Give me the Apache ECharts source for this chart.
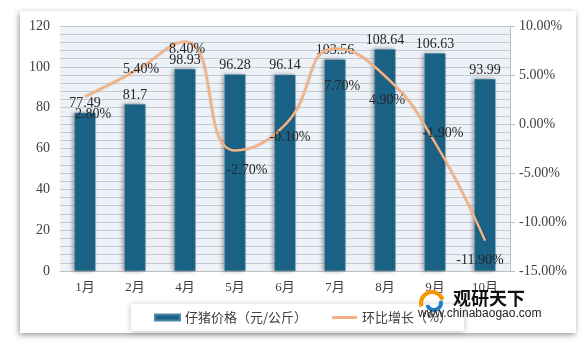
<!DOCTYPE html>
<html><head><meta charset="utf-8">
<script src="https://cdn.jsdelivr.net/npm/echarts@6/dist/echarts.min.js"></script>
<style>
html,body{margin:0;padding:0;background:#fff;}
#panel{position:absolute;left:20px;top:11px;width:556px;height:322px;background:#fff;box-shadow:-1px 2px 6px rgba(0,0,0,0.4);}
#chart{position:absolute;left:0;top:0;width:587px;height:344px;}
</style></head>
<body>
<div id="panel"></div>
<div id="chart"></div>
<script>
var categories = ['1月','2月','4月','5月','6月','7月','8月','9月','10月'];
var priceValues = [77.49, 81.7, 98.93, 96.28, 96.14, 103.56, 108.64, 106.63, 93.99];
var growthValues = [2.80, 5.40, 8.40, -2.70, -0.10, 7.70, 4.90, -1.90, -11.90];
var leftTicks = {min: 0, max: 120, interval: 20};
var rightTicks = {min: -15, max: 10, interval: 5};
var seriesNames = ['仔猪价格（元/公斤）', '环比增长（%）'];

// label offsets for growth labels (presentation only)
var growthLabelOffsets = [[8,18],[6,-2],[2,8],[12,20],[5,12],[7,38],[2,24],[8,-9],[-5,20]];

var serif = '"Liberation Serif","Noto Sans CJK SC",serif';
var chart = echarts.init(document.getElementById('chart'));
var growthData = growthValues.map(function(v, i){
  return {value: v, label: {offset: growthLabelOffsets[i]}};
});
chart.setOption({
  backgroundColor: 'transparent',
  animation: false,
  grid: {left: 60, right: 77, top: 26, bottom: 73, show: true, backgroundColor: '#edf2f8', borderWidth: 0},
  legend: {
    left: 131, top: 304, padding: [7, 12, 7, 23],
    backgroundColor: '#fff',
    shadowColor: 'rgba(0,0,0,0.25)', shadowBlur: 6, shadowOffsetY: 1,
    itemWidth: 25, itemHeight: 6, itemGap: 25,
    textStyle: {fontFamily: '"Noto Sans CJK SC"', fontSize: 13, color: '#404040'},
    data: [
      {name: seriesNames[0], icon: 'rect'},
      {name: seriesNames[1], icon: 'path://M0,0L25,0L25,3L0,3Z', itemStyle: {color: '#f4b183'}}
    ]
  },
  xAxis: {
    type: 'category', data: categories,
    axisLine: {show: true, lineStyle: {color: '#bfbfbf'}},
    axisTick: {show: false},
    axisLabel: {fontFamily: serif, fontSize: 13, color: '#404040', margin: 10}
  },
  yAxis: [
    {type: 'value', min: leftTicks.min, max: leftTicks.max, interval: leftTicks.interval,
     axisLine: {show: false}, axisTick: {show: false},
     axisLabel: {fontFamily: serif, fontSize: 14, color: '#404040', margin: 10},
     splitLine: {show: true, lineStyle: {color: '#c6cbd1', width: 1}},
     minorTick: {show: false, splitNumber: 5},
     minorSplitLine: {show: true, lineStyle: {color: '#c6cbd1', width: 1}}
    },
    {type: 'value', min: rightTicks.min, max: rightTicks.max, interval: rightTicks.interval,
     position: 'right',
     axisLine: {show: true, lineStyle: {color: '#bfbfbf'}},
     axisTick: {show: true, inside: false, length: 5, lineStyle: {color: '#bfbfbf'}},
     axisLabel: {fontFamily: serif, fontSize: 14, color: '#404040', margin: 9,
       formatter: function(v){ return v.toFixed(2) + '%'; }},
     splitLine: {show: false}
    }
  ],
  series: [
    {name: seriesNames[0], type: 'bar', data: priceValues, barWidth: 21,
     itemStyle: {color: '#1b6386', borderColor: '#4a86a5', borderWidth: 0.5,
       shadowColor: 'rgba(0,0,0,0.35)', shadowBlur: 4, shadowOffsetX: -2, shadowOffsetY: 0},
     label: {show: true, position: 'top', distance: 2, fontFamily: serif, fontSize: 14, color: '#262626'},
     z: 2
    },
    {name: seriesNames[1], type: 'line', yAxisIndex: 1, data: growthData, smooth: 0.5,
     symbol: 'circle', symbolSize: 1, showSymbol: true,
     lineStyle: {color: '#f4b183', width: 2.5, shadowColor: 'rgba(0,0,0,0.15)', shadowBlur: 2},
     itemStyle: {color: 'rgba(244,177,131,0)', borderWidth: 0},
     label: {show: true, position: 'inside', fontFamily: serif, fontSize: 14, color: '#262626',
       formatter: function(p){ return p.value.toFixed(2) + '%'; }},
     z: 3
    }
  ],
  graphic: [
    {type: 'arc', shape: {cx: 432, cy: 303, r: 11, startAngle: Math.PI*0.9, endAngle: Math.PI*1.9},
     style: {stroke: '#f39800', lineWidth: 4, fill: null}, z: 10},
    {type: 'arc', shape: {cx: 434, cy: 303, r: 7, startAngle: -Math.PI*0.1, endAngle: Math.PI*0.9},
     style: {stroke: '#1d7fc4', lineWidth: 4, fill: null}, z: 10},
    {type: 'text', left: 453, top: 289,
     style: {text: '观研天下', font: 'bold 18px "Noto Sans CJK SC"', fill: '#111'}, z: 10},
    {type: 'text', left: 418, top: 308,
     style: {text: 'www.chinabaogao.com', font: '12px "Liberation Sans", sans-serif', fill: '#222'}, z: 10}
  ]
});
</script>
</body></html>
